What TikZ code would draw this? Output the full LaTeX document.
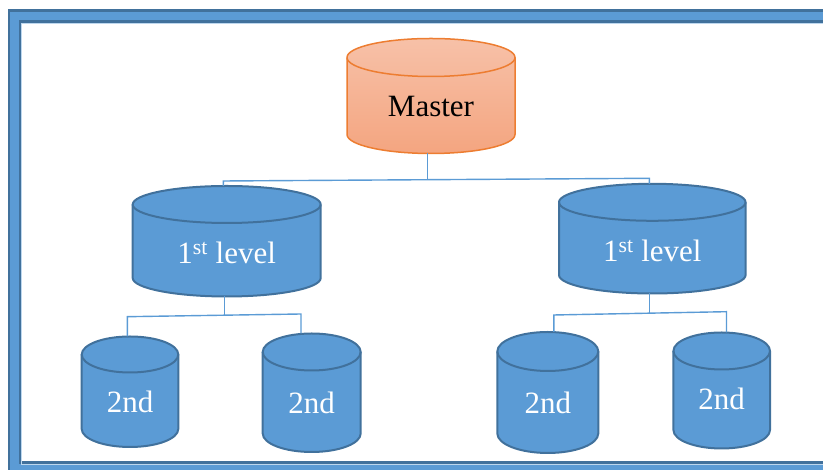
\documentclass[tikz,border=0pt]{standalone}
\usepackage{fontspec}
\setmainfont{Liberation Serif}
\definecolor{cylblue}{RGB}{91,155,213}
\definecolor{cylrim}{RGB}{65,113,156}
\definecolor{linkblue}{RGB}{91,155,213}
\definecolor{paleblue}{RGB}{189,215,238}
\definecolor{mastertop}{RGB}{247,193,168}
\definecolor{masterbot}{RGB}{244,165,128}
\definecolor{masterrim}{RGB}{237,125,49}

\tikzset{
  bluecyl/.style={fill=cylblue, draw=cylrim, line width=2pt, line join=round},
  bluerim/.style={draw=cylrim, line width=2pt},
  bluetext/.style={text=white, inner sep=0pt, font=\fontsize{31}{37}\selectfont},
  mastercyl/.style={top color=mastertop, bottom color=masterbot, draw=masterrim, line width=1.5pt, line join=round},
  masterrim/.style={draw=masterrim, line width=1.5pt},
  mastertext/.style={text=black, inner sep=0pt, font=\fontsize{31}{37}\selectfont},
  conn/.style={draw=linkblue, line width=1.4pt},
}

% Database cylinder, measured in screen pixels (y grows downwards):
% #1 name, #2 centre x, #3 radius x, #4 top face centre y, #5 bottom face centre y,
% #6 radius y, #7 style family (blue/master), #8 label baseline y, #9 label
\newcommand\dbcyl[9]{%
  \path[#7cyl] ({#2-#3},{470-#4}) -- ({#2-#3},{470-#5})
     arc[start angle=180, end angle=360, x radius=#3, y radius=#6]
     -- ({#2+#3},{470-#4})
     arc[start angle=0, end angle=180, x radius=#3, y radius=#6] -- cycle;
  \path[#7rim] ({#2-#3},{470-#4})
     arc[start angle=180, end angle=360, x radius=#3, y radius=#6];
  \coordinate (#1-top) at (#2,{470-#4+#6});
  \coordinate (#1-bot) at (#2,{470-#5-#6});
  \node[#7text, anchor=base] (#1) at (#2,{470-#8}) {#9};
}

\begin{document}
\begin{tikzpicture}[x=1pt, y=1pt]
  \useasboundingbox (0,0) rectangle (823,470);
  \clip (0,0) rectangle (823,470);

  % page frame
  \draw[line width=13.5pt, cylblue] (14.25,453.75) rectangle (860,-0.75);
  \draw[line width=2.5pt, cylrim] (8.75,459.25) rectangle (870,-10);
  \draw[line width=2.5pt, cylrim] (19.75,448.25) rectangle (860,7.25);
  \draw[line width=0.8pt, paleblue] (21.4,446.6) rectangle (860,5.6);

  % databases
  \dbcyl{master}{431}{84}{57.5}{134.5}{19}{master}{116.7}{Master}
  \dbcyl{l1a}{226.7}{94}{204.5}{278}{18.5}{blue}{264}{1\textsuperscript{st} level}
  \dbcyl{l1b}{652.3}{93.3}{202.3}{275}{18.5}{blue}{261.7}{1\textsuperscript{st} level}
  \dbcyl{l2a}{130}{48.3}{354.5}{429}{18}{blue}{412.3}{2nd}
  \dbcyl{l2b}{311.7}{49}{352}{433.5}{18.5}{blue}{413.3}{2nd}
  \dbcyl{l2c}{547.8}{50.5}{351.5}{433.5}{19.5}{blue}{413.3}{2nd}
  \dbcyl{l2d}{721.7}{48.3}{351}{430}{18.5}{blue}{410}{2nd}

  % bus junctions
  \coordinate (b0l) at (223.3,{470-181});
  \coordinate (b0r) at (649.3,{470-178.3});
  \coordinate (b0m) at (427.7,{470-179.7});
  \coordinate (b1l) at (127.3,{470-316.7});
  \coordinate (b1r) at (301,{470-314});
  \coordinate (b1m) at (224.3,{470-315.4});
  \coordinate (b2l) at (553.8,{470-315});
  \coordinate (b2r) at (726.5,{470-311.7});
  \coordinate (b2m) at (649.3,{470-312.6});

  % connectors
  \draw[conn] (b0m |- master-bot) -- (b0m);
  \draw[conn] (b0l |- l1a-top) -- (b0l) -- (b0r) -- (b0r |- l1b-top);
  \draw[conn] (b1m |- l1a-bot) -- (b1m);
  \draw[conn] (b1l |- l2a-top) -- (b1l) -- (b1r) -- (b1r |- l2b-top);
  \draw[conn] (b2m |- l1b-bot) -- (b2m);
  \draw[conn] (b2l |- l2c-top) -- (b2l) -- (b2r) -- (b2r |- l2d-top);
\end{tikzpicture}
\end{document}
